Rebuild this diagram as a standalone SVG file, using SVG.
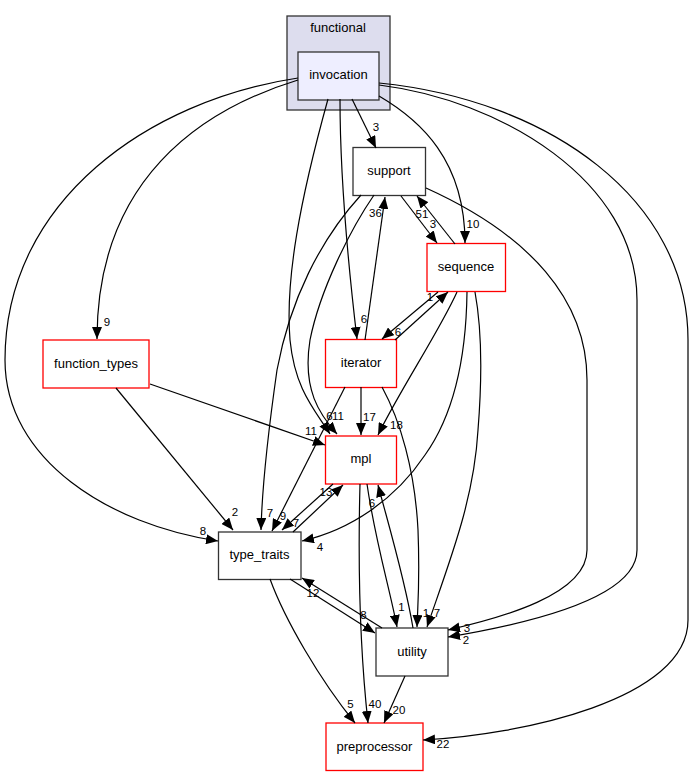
<svg xmlns="http://www.w3.org/2000/svg" width="693" height="777" viewBox="0 0 693 777">
<style>
.n{font-family:"Liberation Sans",Arial,sans-serif;font-size:13px;text-anchor:middle;fill:#000}
.l{font-family:"Liberation Sans",Arial,sans-serif;font-size:11.5px;text-anchor:middle;fill:#000}
.bk{fill:#fff;stroke:#333;stroke-width:1.3}
.rd{fill:#fff;stroke:#f00;stroke-width:1.3}
.e path{fill:none;stroke:#000;stroke-width:1.2;marker-end:url(#a)}
</style>
<defs>
<marker id="a" markerUnits="userSpaceOnUse" markerWidth="13" markerHeight="10" refX="12" refY="5" orient="auto">
<path d="M0,0 L12,5 L0,10 z" fill="#000"/>
</marker>
</defs>
<rect width="693" height="777" fill="#fff"/>
<g id="cluster_functional">
<rect x="287" y="16" width="103" height="94" fill="#ddddee" stroke="#333" stroke-width="1.3"/>
<text class="n" x="338" y="31.5">functional</text>
</g>
<g id="node_invocation">
<rect x="298" y="52" width="81" height="48" fill="#eeeeff" stroke="#333" stroke-width="1.3"/>
<text class="n" x="338.5" y="79">invocation</text>
</g>
<g id="node_support">
<rect class="bk" x="353" y="147.5" width="72.5" height="48"/>
<text class="n" x="389" y="175">support</text>
</g>
<g id="node_sequence">
<rect class="rd" x="427" y="243.5" width="78.5" height="48"/>
<text class="n" x="466" y="271">sequence</text>
</g>
<g id="node_function_types">
<rect class="rd" x="43" y="340" width="106" height="48"/>
<text class="n" x="96" y="367.5">function_types</text>
</g>
<g id="node_iterator">
<rect class="rd" x="325.5" y="339.5" width="71" height="48"/>
<text class="n" x="361" y="367">iterator</text>
</g>
<g id="node_mpl">
<rect class="rd" x="325.5" y="436" width="71" height="48"/>
<text class="n" x="361" y="463">mpl</text>
</g>
<g id="node_type_traits">
<rect class="bk" x="218.5" y="532" width="82.5" height="47.5"/>
<text class="n" x="259.5" y="559">type_traits</text>
</g>
<g id="node_utility">
<rect class="bk" x="376" y="628" width="72" height="48"/>
<text class="n" x="412" y="655.5">utility</text>
</g>
<g id="node_preprocessor">
<rect class="rd" x="326" y="723" width="97" height="47.5"/>
<text class="n" x="374.5" y="750.5">preprocessor</text>
</g>
<g id="connectors" class="e">
<path d="M352,99 L376,148"/>
<path d="M379,96 C420,120 465,160 465,243"/>
<path d="M298,80 C200,110 97,180 97,339"/>
<path d="M298,78 C150,100 5,200 5,360 C5,460 110,525 218,541"/>
<path d="M340,99 C340,180 350,280 357,339"/>
<path d="M328,99 C300,200 285,280 290,340 C295,390 315,410 330,434"/>
<path d="M379,85 C500,100 637,180 637,300 L637,550 C637,600 520,625 448,637"/>
<path d="M379,83 C550,100 688,200 688,340 L688,620 C688,700 520,735 423,740"/>
<path d="M401,196 L437,243"/>
<path d="M455,244 L417,196"/>
<path d="M361,195 C320,240 290,300 277,370 C267,440 262,490 261,530"/>
<path d="M374,195 C350,230 320,290 310,340 C302,390 320,415 337,434"/>
<path d="M426,188 C530,235 587,300 587,380 L587,550 C587,595 500,618 448,630"/>
<path d="M365,340 L385,197"/>
<path d="M438,292 L382,339"/>
<path d="M395,340 L448,292"/>
<path d="M457,292 C440,330 400,390 378,435"/>
<path d="M467,292 C466,370 450,420 425,455 C395,500 350,530 302,541"/>
<path d="M475,292 C482,330 482,380 478,430 C474,500 450,560 427,627"/>
<path d="M382,387 C400,420 415,470 418,530 C420,580 418,600 417,627"/>
<path d="M361,387 L361,435"/>
<path d="M345,387 L272,531"/>
<path d="M150,384 L325,445"/>
<path d="M116,388 L233,530"/>
<path d="M333,484 L282,530"/>
<path d="M293,532 L343,485"/>
<path d="M367,484 C375,540 390,590 397,627"/>
<path d="M413,628 C405,580 390,530 378,485"/>
<path d="M360,484 C358,560 360,650 368,723"/>
<path d="M290,579 L375,633"/>
<path d="M382,628 L302,578"/>
<path d="M270,579 C285,620 320,680 355,723"/>
<path d="M405,676 L384,723"/>
</g>
<g id="labels">
<text class="l" x="376" y="131">3</text>
<text class="l" x="473" y="228">10</text>
<text class="l" x="107" y="326">9</text>
<text class="l" x="203" y="535">8</text>
<text class="l" x="364" y="323">6</text>
<text class="l" x="329.5" y="420">6</text>
<text class="l" x="338" y="420">11</text>
<text class="l" x="467" y="632">3</text>
<text class="l" x="466" y="644">2</text>
<text class="l" x="443" y="748">22</text>
<text class="l" x="433" y="228">3</text>
<text class="l" x="422" y="218">51</text>
<text class="l" x="270" y="517">7</text>
<text class="l" x="375.5" y="217">36</text>
<text class="l" x="398" y="336">6</text>
<text class="l" x="430" y="301">1</text>
<text class="l" x="396.5" y="429">18</text>
<text class="l" x="320" y="551">4</text>
<text class="l" x="437" y="617">7</text>
<text class="l" x="369.5" y="421">17</text>
<text class="l" x="283" y="520">9</text>
<text class="l" x="426" y="617">1</text>
<text class="l" x="311" y="435">11</text>
<text class="l" x="235" y="516">2</text>
<text class="l" x="296" y="527">7</text>
<text class="l" x="326" y="496">13</text>
<text class="l" x="401.5" y="611">1</text>
<text class="l" x="372" y="507">6</text>
<text class="l" x="375" y="708">40</text>
<text class="l" x="363.5" y="619">8</text>
<text class="l" x="313" y="597">12</text>
<text class="l" x="350.5" y="708">5</text>
<text class="l" x="399" y="714">20</text>
</g>
</svg>
